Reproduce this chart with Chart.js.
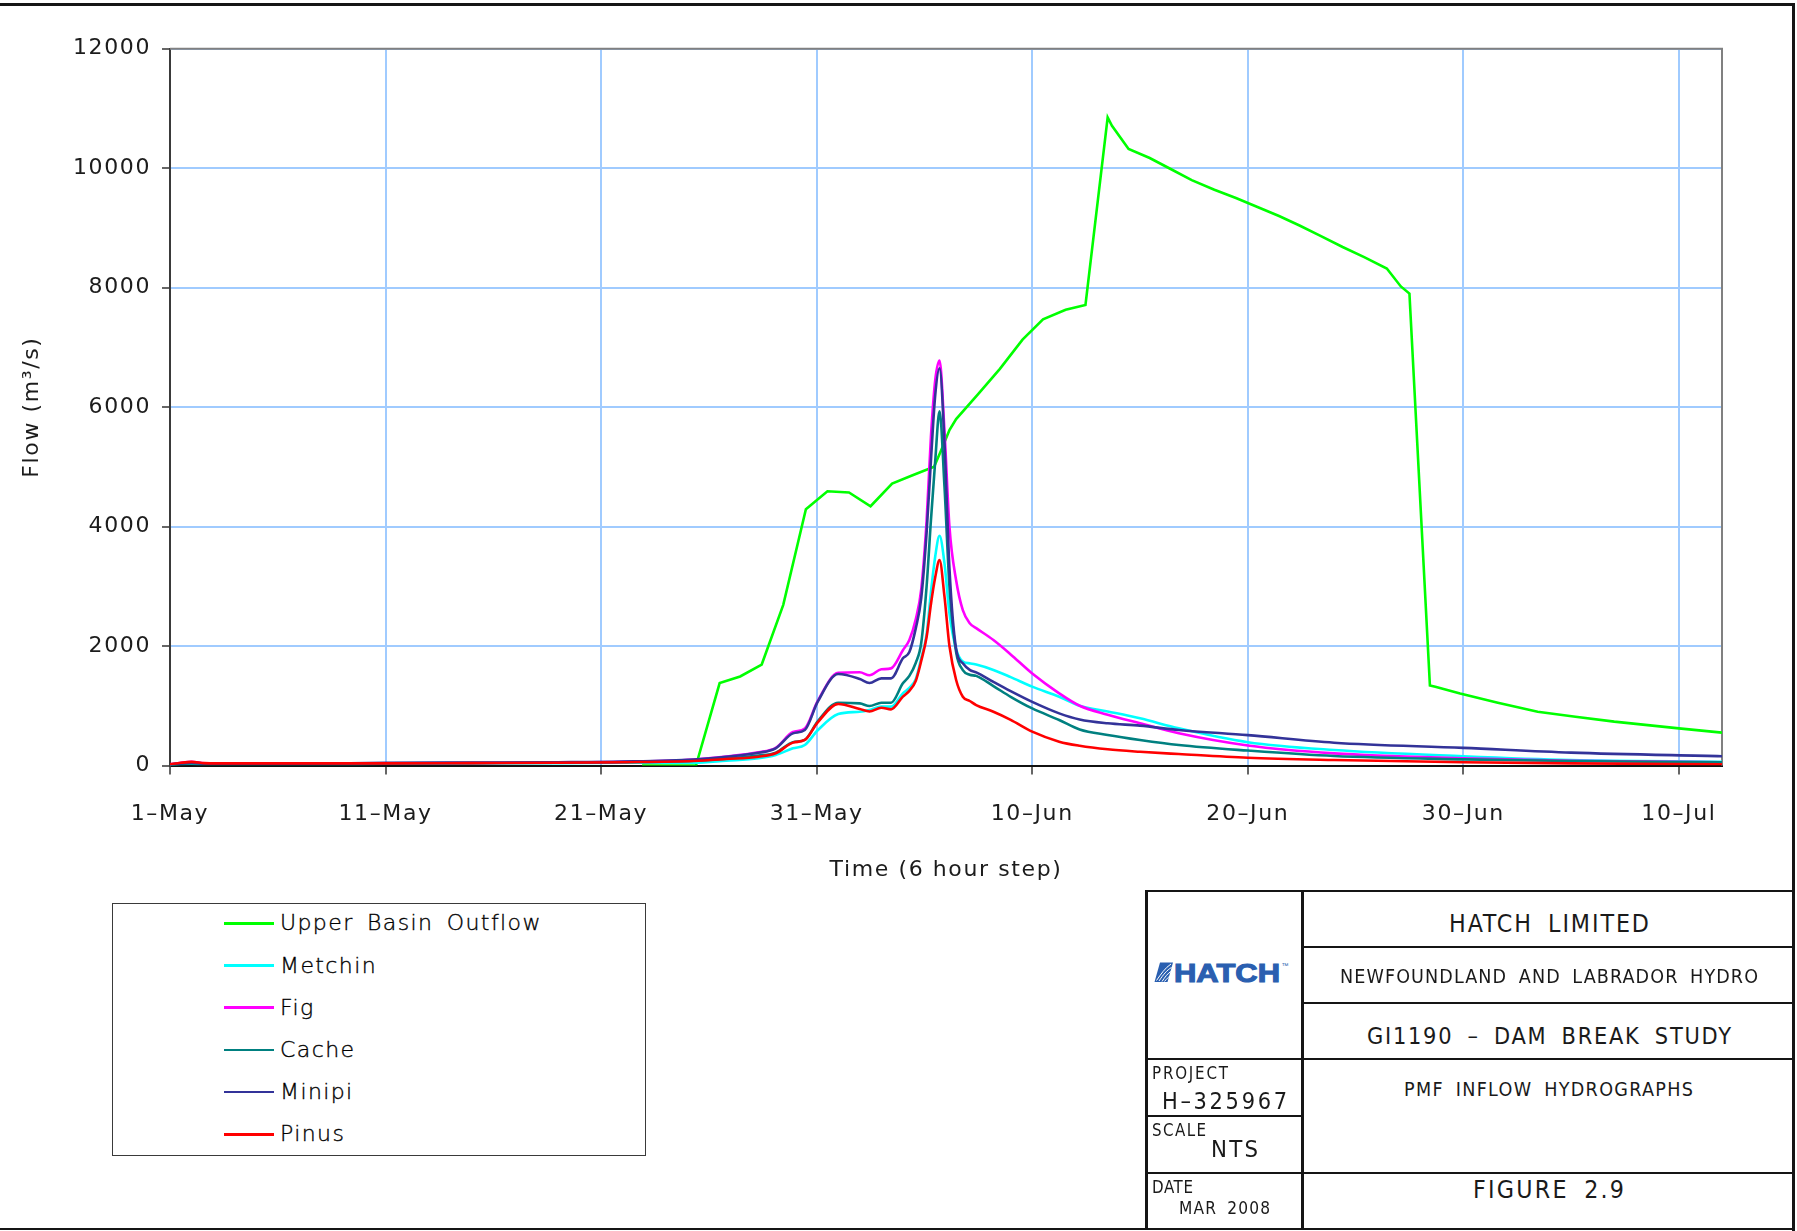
<!DOCTYPE html>
<html>
<head>
<meta charset="utf-8">
<title>PMF Inflow Hydrographs</title>
<script src="https://cdn.jsdelivr.net/npm/chart.js@4.4.1/dist/chart.umd.min.js"></script>
<style>
  html, body { margin: 0; padding: 0; background: #fff; }
  body { width: 1797px; height: 1231px; position: relative; overflow: hidden;
         font-family: 'DejaVu Sans', sans-serif; color: #000; }
  #plot { position: absolute; left: 0; top: 0; }
  .rule { position: absolute; background: #151515; }
  .tb { position: absolute; white-space: pre; line-height: 1; color: #1a1a1a;
        font-family: 'Liberation Sans Narrow', 'DejaVu Sans Condensed', 'Liberation Sans', sans-serif; }
  .legend { position: absolute; left: 112px; top: 903px; width: 534px; height: 253px;
            border: 1.5px solid #3a3a3a; box-sizing: border-box; }
  .lg-line { position: absolute; left: 224px; width: 50px; height: 2.5px; }
  .lg-text { position: absolute; left: 280px; height: 22px; line-height: 22px; font-size: 22px;
             font-weight: 300; letter-spacing: 1.4px; word-spacing: 5px; white-space: pre; color: #000;
             -webkit-text-stroke: 0.35px #000; }
</style>
</head>
<body>
<canvas id="plot" width="1797" height="900" style="width:1797px;height:900px"></canvas>

<!-- drawing frame -->
<div class="rule" style="left:0;top:3px;width:1795px;height:2.5px"></div>
<div class="rule" style="left:1792px;top:3px;width:2.5px;height:1228px"></div>
<div class="rule" style="left:0;top:1227.5px;width:1795px;height:2.5px"></div>

<!-- legend -->
<div class="legend"></div>
<div id="legendRows"></div>

<!-- title block -->
<div class="rule" style="left:1144.5px;top:890px;width:3px;height:339px"></div>
<div class="rule" style="left:1300.5px;top:890px;width:3px;height:339px"></div>
<div class="rule" style="left:1145px;top:889.5px;width:649px;height:2.5px"></div>
<div class="rule" style="left:1302px;top:945.5px;width:492px;height:2.5px"></div>
<div class="rule" style="left:1302px;top:1001.5px;width:492px;height:2.5px"></div>
<div class="rule" style="left:1145px;top:1057.5px;width:649px;height:2.5px"></div>
<div class="rule" style="left:1145px;top:1114.5px;width:157px;height:2.5px"></div>
<div class="rule" style="left:1145px;top:1171.5px;width:649px;height:2.5px"></div>

<svg style="position:absolute;left:1154px;top:961px" width="140" height="23" viewBox="0 0 140 23">
  <polygon points="6,1.5 19,1.5 13.5,21 0.5,21" fill="#2a5fb0"/>
  <path d="M2.5,19.5 C7,13 11,7 17,3 M5,20 C9,14 13,9 17.5,6.5 M8,20.5 C11,16 14,12 17,10.5 M10.5,20.5 C12.5,18 14.5,16 16,15"
        stroke="#fff" stroke-width="1" fill="none"/>
  <text x="20" y="20.6" font-family="Liberation Sans, DejaVu Sans, sans-serif" font-weight="bold"
        font-size="26" fill="#2a5fb0" stroke="#2a5fb0" stroke-width="1.1"
        textLength="106" lengthAdjust="spacingAndGlyphs">HATCH</text>
  <text x="127.5" y="7" font-family="Liberation Sans, sans-serif" font-size="7" fill="#2a5fb0">™</text>
</svg>
<div id="titleBlock"></div>

<script>
// ---- hydrograph data (x = days after 1 May, y = flow in m3/s) ----
const upperDays = [21.9, 24.4, 25.5, 26.45, 27.45, 28.45, 29.5, 30.5, 31.5, 32.5, 33.5, 34.45, 35.45,
  35.85, 36.16, 36.47, 37.5, 38.5, 39.55, 40.5, 41.55, 42.47, 43.5, 43.7, 44.47, 45.45, 46.4, 47.4,
  48.45, 49.45, 50.45, 51.45, 52.4, 53.35, 54.4, 55.4, 56.45, 57.1, 57.5, 58.45, 58.7, 59.85, 61.6,
  63.45, 65.2, 67.0, 70.0, 72.0];
const upperFlow = [0, 0, 1380, 1490, 1690, 2690, 4290, 4590, 4570, 4340, 4720, 4860, 5000,
  5340, 5615, 5800, 6220, 6640, 7130, 7470, 7630, 7710, 10850, 10710, 10320, 10170, 9990, 9800,
  9640, 9500, 9350, 9200, 9040, 8870, 8680, 8510, 8320, 8020, 7900, 1340, 1320, 1205, 1050,
  900, 817, 734, 622, 550];

const tribDays = [0, 0.5, 1, 1.6, 3, 6, 10, 14, 18, 21,
  24.3, 25.8, 27.3, 28.1, 28.9, 29.45, 30.05, 31.0, 32.0, 32.45,
  33.0, 33.45, 34.0, 34.3, 34.6, 34.85, 35.1, 35.3, 35.5, 35.7,
  35.93, 36.16, 36.47, 36.78, 37.1, 37.4, 38.2, 39.0, 40.0, 41.25,
  42.2, 43.5, 45.0, 46.8, 50.0, 54.0, 60.0, 65.0, 72.0];
const metchinFlow = [15, 25, 30, 25, 25, 25, 30, 35, 40, 45,
  47, 80, 120, 175, 288, 343, 590, 862, 900, 929,
  985, 985, 1208, 1300, 1450, 1800, 2200, 2900, 3500, 3846,
  3384, 2547, 1950, 1740, 1710, 1690, 1600, 1480, 1320, 1152,
  1000, 905, 790, 622, 390, 259, 155, 92, 64];
const figFlow = [20, 45, 60, 38, 35, 35, 38, 42, 50, 60,
  100, 150, 220, 295, 560, 620, 1080, 1550, 1560, 1510,
  1610, 1626, 1930, 2100, 2450, 2950, 4100, 5500, 6450, 6780,
  5600, 4000, 3100, 2600, 2380, 2300, 2100, 1860, 1540, 1208,
  1000, 850, 706, 539, 335, 203, 120, 80, 55];
const cacheFlow = [15, 30, 35, 30, 30, 30, 35, 40, 45, 55,
  80, 115, 165, 215, 390, 430, 740, 1050, 1040, 996,
  1050, 1051, 1375, 1500, 1720, 2050, 3000, 4100, 5100, 5930,
  4667, 3000, 1900, 1598, 1520, 1500, 1330, 1150, 955, 762,
  604, 511, 427, 343, 250, 159, 103, 75, 53];
const minipiFlow = [20, 35, 45, 35, 32, 32, 45, 50, 55, 65,
  100, 147, 213, 288, 538, 594, 1068, 1531, 1448, 1380,
  1459, 1459, 1794, 1900, 2300, 2800, 3900, 5100, 6200, 6650,
  5400, 3300, 1950, 1710, 1600, 1560, 1400, 1245, 1065, 873,
  770, 706, 667, 595, 508, 382, 295, 215, 155];
const pinusFlow = [20, 45, 60, 40, 35, 35, 35, 40, 45, 55,
  75, 108, 147, 204, 383, 427, 723, 1030, 945, 905,
  968, 940, 1152, 1250, 1420, 1750, 2150, 2700, 3150, 3439,
  2826, 2000, 1431, 1152, 1080, 1012, 900, 765, 566, 399,
  330, 271, 230, 192, 130, 92, 55, 36, 22];

const seriesNames  = ['Upper Basin Outflow', 'Metchin', 'Fig', 'Cache', 'Minipi', 'Pinus'];
const seriesColors = ['#00ff00', '#00ffff', '#ff00ff', '#008080', '#333399', '#ff0000'];

const dateTickDays   = [0, 10, 20, 30, 40, 50, 60, 70];
const dateTickLabels = ['1–May', '11–May', '21–May', '31–May', '10–Jun', '20–Jun', '30–Jun', '10–Jul'];
const flowTicks      = [0, 2000, 4000, 6000, 8000, 10000, 12000];

// ---- chart ----
const FONT = "'DejaVu Sans', sans-serif";
const TEXT_COLOR = '#000';
const pts = (xs, ys) => xs.map((x, i) => ({ x: x, y: ys[i] }));
const seriesData = [
  pts(upperDays, upperFlow),
  pts(tribDays, metchinFlow),
  pts(tribDays, figFlow),
  pts(tribDays, cacheFlow),
  pts(tribDays, minipiFlow),
  pts(tribDays, pinusFlow)
];
const datasets = seriesNames.map((name, i) => ({
  label: name,
  data: seriesData[i],
  borderColor: seriesColors[i],
  backgroundColor: seriesColors[i],
  borderWidth: 2.6,
  pointRadius: 0,
  fill: false,
  // later series in the key are drawn over earlier ones
  order: seriesNames.length - 1 - i,
  cubicInterpolationMode: i === 0 ? 'default' : 'monotone',
  tension: 0
}));

const textSpacing = {
  id: 'textSpacing',
  beforeUpdate(c) { c.ctx.letterSpacing = '1.6px'; },
  beforeDraw(c) { c.ctx.letterSpacing = '1.6px'; }
};
const plotFrame = {
  id: 'plotFrame',
  beforeDatasetsDraw(c) {
    const { ctx, chartArea: a } = c;
    ctx.save();
    ctx.strokeStyle = '#808080';
    ctx.lineWidth = 2;
    ctx.beginPath();
    ctx.moveTo(a.left, a.top);
    ctx.lineTo(a.right, a.top);
    ctx.lineTo(a.right, a.bottom);
    ctx.stroke();
    ctx.restore();
  }
};

new Chart(document.getElementById('plot'), {
  type: 'line',
  data: { datasets: datasets },
  plugins: [textSpacing, plotFrame],
  options: {
    responsive: false,
    animation: false,
    devicePixelRatio: 1,
    layout: { padding: { left: 0, top: 48.7, right: 75, bottom: 0 } },
    plugins: { legend: { display: false }, tooltip: { enabled: false } },
    scales: {
      x: {
        type: 'linear', min: 0, max: 72,
        afterBuildTicks: s => { s.ticks = dateTickDays.map(v => ({ value: v })); },
        afterFit: s => { s.height = 134.5; },
        ticks: {
          callback: v => dateTickLabels[dateTickDays.indexOf(v)],
          font: { family: FONT, size: 22, weight: 'normal' }, color: '#1c1c1c',
          padding: 26.5, maxRotation: 0, autoSkip: false
        },
        grid: { color: '#a0cbff', lineWidth: 2, tickColor: '#333', tickLength: 9, tickWidth: 1.5 },
        border: { color: '#111', width: 2 },
        title: { display: true, text: 'Time (6 hour step)', font: { family: FONT, size: 22, weight: 'normal' },
                 color: '#1c1c1c', padding: { top: 0, bottom: 16.5 } }
      },
      y: {
        type: 'linear', min: 0, max: 12000,
        afterBuildTicks: s => { s.ticks = flowTicks.map(v => ({ value: v })); },
        afterFit: s => { s.width = 170; },
        ticks: {
          callback: v => String(v),
          font: { family: FONT, size: 22, weight: 'normal' }, color: '#1c1c1c', padding: 11
        },
        grid: { color: '#a0cbff', lineWidth: 2, tickColor: '#333', tickLength: 8, tickWidth: 1.5 },
        border: { color: '#3a3a3a', width: 2 },
        title: { display: true, text: 'Flow (m³/s)', font: { family: FONT, size: 22, weight: 'normal' },
                 color: '#1c1c1c', padding: { top: 19, bottom: 0 } }
      }
    }
  }
});

// ---- legend ----
const legendRowY = [923.3, 965.7, 1007.7, 1050, 1092, 1134.3];
const rows = document.getElementById('legendRows');
seriesNames.forEach((name, i) => {
  const ln = document.createElement('div');
  ln.className = 'lg-line';
  ln.style.top = (legendRowY[i] - 1.25) + 'px';
  ln.style.background = seriesColors[i];
  rows.appendChild(ln);
  const tx = document.createElement('div');
  tx.className = 'lg-text';
  tx.style.top = (legendRowY[i] - 11) + 'px';
  tx.textContent = name;
  rows.appendChild(tx);
});

// ---- title block text: [text, left, cap top, cap height, ink width] ----
const titleItems = [
  ['HATCH LIMITED', 1449, 915, 17.7, 200],
  ['NEWFOUNDLAND AND LABRADOR HYDRO', 1340, 970, 14, 418],
  ['GI1190 – DAM BREAK STUDY', 1367, 1026.7, 16.7, 364],
  ['PMF INFLOW HYDROGRAPHS', 1404, 1083, 14, 289],
  ['FIGURE 2.9', 1473, 1181.7, 17.7, 151],
  ['PROJECT', 1152, 1067, 12, 76],
  ['H–325967', 1162, 1091.7, 16.7, 125],
  ['SCALE', 1152, 1124, 12, 54],
  ['NTS', 1211, 1141, 17, 47],
  ['DATE', 1152, 1181, 12, 41],
  ['MAR 2008', 1179, 1202.7, 12.3, 91]
];
const tb = document.getElementById('titleBlock');
titleItems.forEach(([text, left, capTop, capH, inkW]) => {
  const el = document.createElement('div');
  el.className = 'tb';
  const size = capH / 0.716;
  el.style.fontSize = size + 'px';
  el.style.left = left + 'px';
  el.style.top = (capTop - 0.1305 * size) + 'px';
  el.style.wordSpacing = (0.25 * size) + 'px';
  el.textContent = text;
  tb.appendChild(el);
  const w = el.getBoundingClientRect().width;
  const n = text.length;
  if (w < inkW && n > 1) {
    el.style.letterSpacing = ((inkW - w) / (n - 1)) + 'px';
  } else if (w > inkW) {
    el.style.transformOrigin = 'left top';
    el.style.transform = 'scaleX(' + (inkW / w) + ')';
  }
});
</script>
</body>
</html>
